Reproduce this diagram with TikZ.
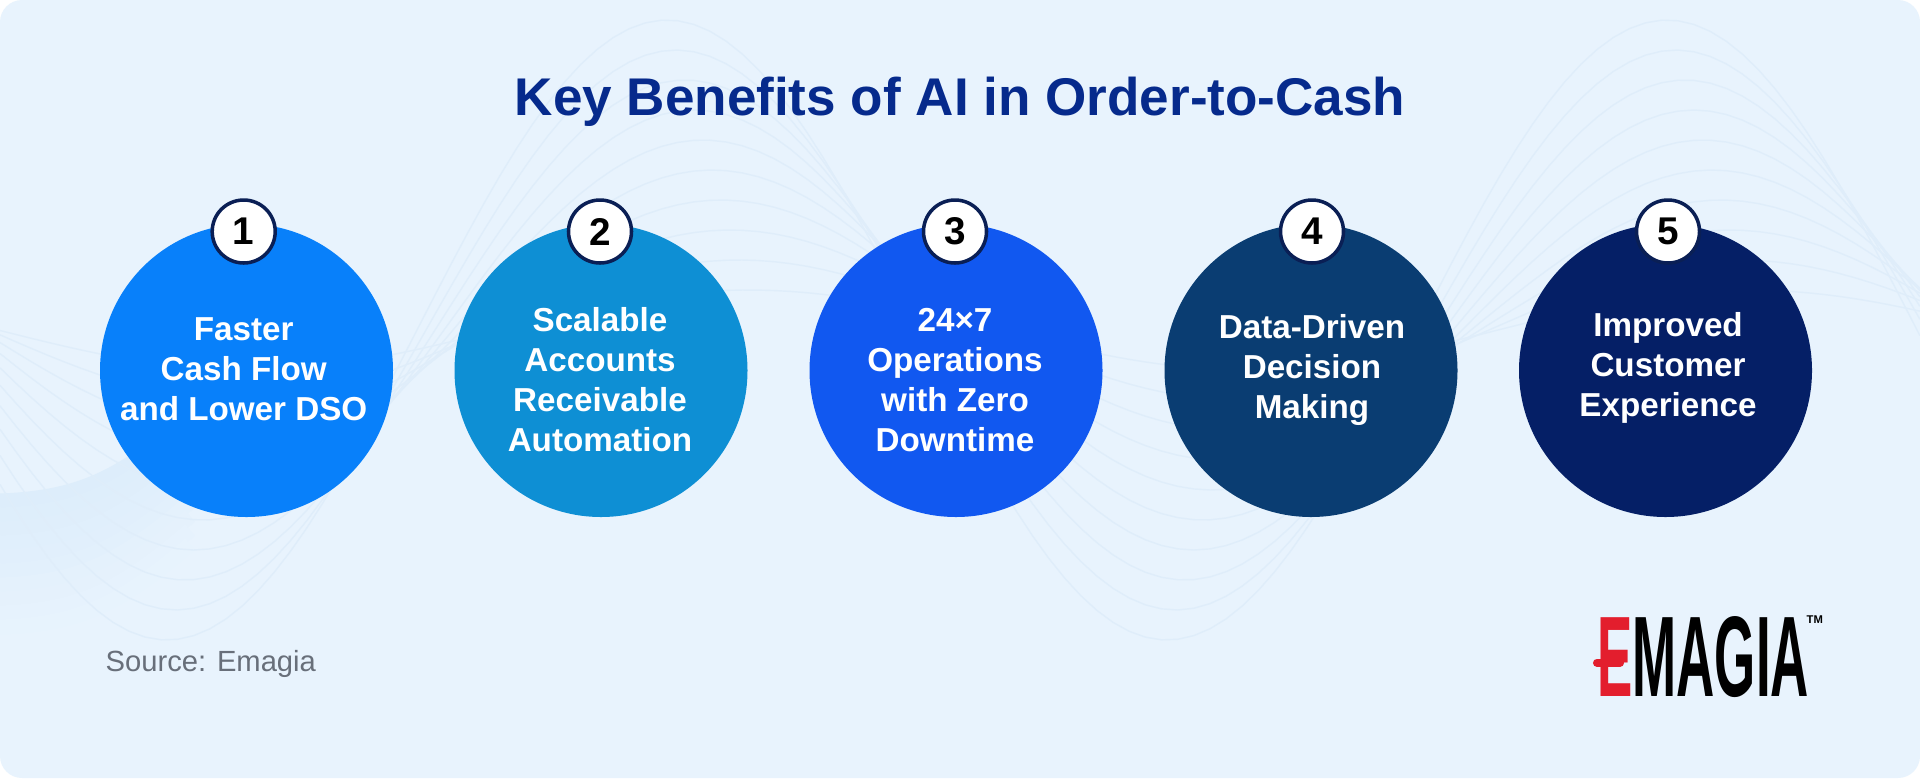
\documentclass[tikz,border=0pt]{standalone}
\usepackage{fontspec}
\setmainfont{Liberation Sans}
\usetikzlibrary{calc}
\definecolor{panelbg}{HTML}{E8F3FD}
\definecolor{waveline}{HTML}{DFEDFA}
\definecolor{wavepatch}{HTML}{DDEDFB}
\definecolor{titleblue}{HTML}{062A8C}
\definecolor{sourcegray}{HTML}{686F7A}
\definecolor{badgeline}{HTML}{0A1F55}
\definecolor{discone}{HTML}{0880FA}
\definecolor{disctwo}{HTML}{0E8FD4}
\definecolor{discthree}{HTML}{1158F0}
\definecolor{discfour}{HTML}{0A3D72}
\definecolor{discfive}{HTML}{051F66}
\definecolor{logored}{HTML}{E31E2D}
\tikzset{
  disc/.style={circle,minimum size=2.93cm,inner sep=0pt},
  badge/.style={circle,draw=badgeline,line width=1pt,fill=white,minimum size=0.63cm,inner sep=0pt,
    font=\fontsize{11}{11}\selectfont\bfseries},
  disctext/.style={anchor=base,align=center,text=white,
    font=\fontsize{9.45}{11.38}\selectfont\bfseries},
  wave/.style={waveline,line width=0.4pt}
}
\begin{document}
\begin{tikzpicture}
    \useasboundingbox (0,0) rectangle (19.2,7.78);
    % Panel
    \fill[white] (0,0) rectangle (19.2,7.78);
    \fill[panelbg,rounded corners=0.22cm] (0,0) rectangle (19.2,7.78);
    % Waves
    \begin{scope}
      \clip[rounded corners=0.22cm] (0,0) rectangle (19.2,7.78);
      \foreach \k [evaluate=\k as \p using int(100-10*\k)] in {0,...,9} {
        \draw[wavepatch!\p!panelbg,line width=0.15cm] (0,{2.77-0.14*\k}) .. controls (0.8,{2.8-0.14*\k}) and (1.2,{3-0.14*\k}) .. (1.9,{3.6-0.14*\k});
      }
      \foreach \a in {0.4,0.7,...,3.3} {
        \draw[wave] plot[domain=0:19.2,samples=120] (\x,{4.48+\a*cos(36*(\x-7.6+0.3*\a))});
      }
    \end{scope}
    % Title
    \node[anchor=base,text=titleblue,font=\fontsize{15.1}{15.1}\selectfont\bfseries] (title) at (9.6,6.63) {Key Benefits of AI in Order-to-Cash};
    % Discs
    \foreach \n/\cx/\bx/\ty/\col/\txt in {
      1/2.465/2.437/3.573/discone/{Faster\\Cash Flow\\and Lower DSO},
      2/6.01/6.00/3.263/disctwo/{Scalable\\Accounts\\Receivable\\Automation},
      3/9.56/9.55/3.263/discthree/{24×7\\Operations\\with Zero\\Downtime},
      4/13.11/13.12/3.60/discfour/{Data-Driven\\Decision\\Making},
      5/16.655/16.68/3.62/discfive/{Improved\\Customer\\Experience}} {
      \node[disc,fill=\col] (disc\n) at (\cx,4.075) {};
      \node[badge] (badge\n) at (\bx,5.465) {\n};
      \node[disctext] (text\n) at (\bx,\ty) {\txt};
    }
    % Source and logo
    \node[anchor=base west,inner sep=0pt,text=sourcegray,font=\fontsize{8.3}{8.3}\selectfont] (source) at (1.05,1.063) {Source: Emagia};
    \node[anchor=base west,inner sep=0pt,font=\fontsize{32.6}{32.6}\selectfont\bfseries] (logo) at (15.965,0.82) {\scalebox{0.462}[1]{\textcolor{logored}{E}MAGIA}};
    \node[anchor=base west,inner sep=0pt,font=\fontsize{3.2}{3.2}\selectfont\bfseries] (trademark) at (18.06,1.55) {TM};
    \coordinate (barleft) at (15.97,1.153);
    \coordinate (barright) at (16.2,1.153);
    \draw[logored,line width=2.3pt,line cap=round] (barleft) -- (barright);
\end{tikzpicture}
\end{document}
